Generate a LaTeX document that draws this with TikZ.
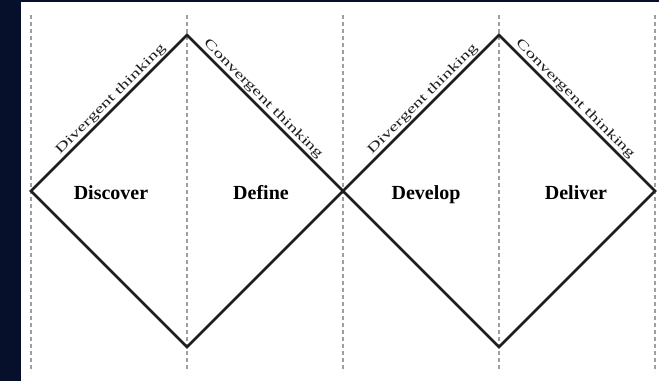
\documentclass[tikz,border=0pt]{standalone}
\usepackage{graphicx,xcolor}
\usepackage{fontspec}
\setmainfont{Liberation Serif}
\definecolor{navybg}{RGB}{7,16,42}
\definecolor{inkline}{RGB}{30,30,30}

\begin{document}
\begin{tikzpicture}[x=1pt,y=-1pt,
  phase/.style={font=\fontsize{20}{24}\selectfont\bfseries,anchor=base,inner sep=0pt},
  slogan/.style={font=\fontsize{13}{15}\selectfont,sloped,above,inner sep=1.2pt,text=inkline},
  guide/.style={gray!75,line width=1.3pt,dash pattern=on 4pt off 3pt},
  dline/.style={inkline,line width=2.6pt,line join=miter}]
\fill[navybg] (0,0) rectangle (659,381);
\fill[white] (21,2) rectangle (659,381);
\useasboundingbox (0,0) rectangle (659,381);
% dashed phase borders
\foreach \gx/\gn in {31/g0,187/g1,343/g2,499/g3,655/g4}{
  \coordinate (\gn top) at (\gx,15);
  \coordinate (\gn bot) at (\gx,372);
  \draw[guide] (\gn top) -- (\gn bot);
}
\coordinate (L) at (31,191);
\coordinate (T1) at (187,35);
\coordinate (B1) at (187,347);
\coordinate (M) at (343,191);
\coordinate (T2) at (499,35);
\coordinate (B2) at (499,347);
\coordinate (R) at (655,191);
% the two diamonds
\draw[dline] (L) -- node[slogan,pos=.55] (div1) {\scalebox{1.52}[1]{Divergent thinking}} (T1)
  -- node[slogan,pos=.45] (con1) {\scalebox{1.52}[1]{Convergent thinking}} (M) -- (B1) -- cycle;
\draw[dline] (M) -- node[slogan,pos=.55] (div2) {\scalebox{1.52}[1]{Divergent thinking}} (T2)
  -- node[slogan,pos=.45] (con2) {\scalebox{1.52}[1]{Convergent thinking}} (R) -- (B2) -- cycle;
\node[phase] (discover) at (111,199) {Discover};
\node[phase] (define) at (261,199) {Define};
\node[phase] (develop) at (426,199) {Develop};
\node[phase] (deliver) at (576,199) {Deliver};
\end{tikzpicture}
\end{document}
